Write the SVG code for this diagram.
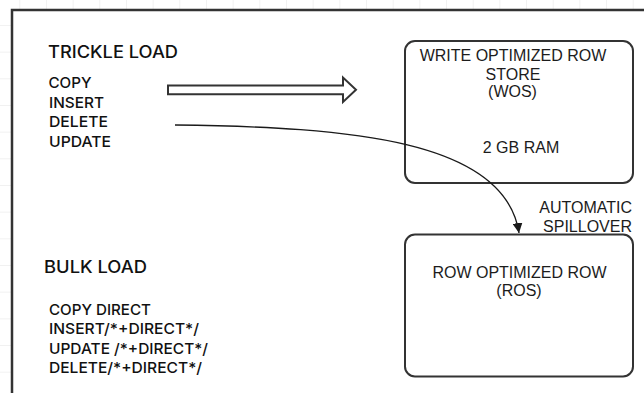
<svg xmlns="http://www.w3.org/2000/svg" width="644" height="393" viewBox="0 0 644 393">
  <defs>
    <pattern id="grid" x="19.3" y="-1.7" width="26.67" height="26.67" patternUnits="userSpaceOnUse">
      <path d="M0,0 H26.67 M0,0 V26.67" fill="none" stroke="#e4e4e4" stroke-width="1"/>
    </pattern>
    <marker id="arrowhead" viewBox="0 0 10 10" refX="10" refY="5" markerWidth="10" markerHeight="10" markerUnits="userSpaceOnUse" orient="auto">
      <path d="M0,0 L10,5 L0,10 z" fill="#1a1a1a"/>
    </marker>
    <style>
      .label { font-family: Inter, "Liberation Sans", sans-serif; font-weight: 500; fill: #111111; }
      .title { font-size: 17px; }
      .item { font-size: 15px; }
      .store { fill: #ffffff; stroke: #333333; stroke-width: 2; }
      .store-text { font-family: "Liberation Sans", Arial, sans-serif; font-size: 16px; fill: #1c1c1c; text-anchor: middle; }
      .frame { fill: none; stroke: #333333; stroke-width: 2.5; }
      .connector { fill: none; stroke: #1a1a1a; stroke-width: 1.3; }
    </style>
  </defs>

  <!-- canvas grid and page -->
  <rect x="0" y="0" width="644" height="393" fill="#ffffff"/>
  <rect x="0" y="0" width="644" height="393" fill="url(#grid)"/>
  <rect x="12" y="10" width="632" height="383" fill="#ffffff"/>
  <path class="frame" d="M12,393 V10 H644"/>

  <!-- trickle load statements -->
  <g id="trickle-load">
    <text class="label title" x="48" y="58" textLength="130" lengthAdjust="spacingAndGlyphs">TRICKLE LOAD</text>
    <text class="label item" x="48.5" y="88" textLength="43" lengthAdjust="spacingAndGlyphs">COPY</text>
    <text class="label item" x="49" y="107.5" textLength="55" lengthAdjust="spacingAndGlyphs">INSERT</text>
    <text class="label item" x="49" y="127" textLength="59" lengthAdjust="spacingAndGlyphs">DELETE</text>
    <text class="label item" x="49" y="146.5" textLength="62" lengthAdjust="spacingAndGlyphs">UPDATE</text>
  </g>

  <!-- bulk load statements -->
  <g id="bulk-load">
    <text class="label title" x="44" y="272.5" textLength="103" lengthAdjust="spacingAndGlyphs">BULK LOAD</text>
    <text class="label item" x="49" y="315" textLength="102" lengthAdjust="spacingAndGlyphs">COPY DIRECT</text>
    <text class="label item" x="49" y="334.3" textLength="150" lengthAdjust="spacingAndGlyphs">INSERT/*+DIRECT*/</text>
    <text class="label item" x="49" y="353.5" textLength="159" lengthAdjust="spacingAndGlyphs">UPDATE /*+DIRECT*/</text>
    <text class="label item" x="49" y="372.7" textLength="153" lengthAdjust="spacingAndGlyphs">DELETE/*+DIRECT*/</text>
  </g>

  <!-- write optimized store -->
  <g id="wos">
    <rect class="store" x="405" y="41" width="228" height="142" rx="10" ry="10"/>
    <text class="store-text" x="513" y="61">WRITE OPTIMIZED ROW</text>
    <text class="store-text" x="513" y="80">STORE</text>
    <text class="store-text" x="512.5" y="97">(WOS)</text>
    <text class="store-text" x="521" y="153">2 GB RAM</text>
  </g>

  <!-- read optimized store -->
  <g id="ros">
    <rect class="store" x="405" y="234.5" width="228" height="142" rx="10" ry="10"/>
    <text class="store-text" x="519.5" y="278">ROW OPTIMIZED ROW</text>
    <text class="store-text" x="519" y="296">(ROS)</text>
  </g>

  <!-- connectors -->
  <g id="connectors">
    <path class="store" d="M168,85.5 H343 V77.5 L356,89.8 L343,102 V94.3 H168 z"/>
    <path class="connector" d="M175,125 C350,127 505,140 519,233" marker-end="url(#arrowhead)"/>
    <text class="store-text" x="632" y="213" style="text-anchor:end">AUTOMATIC</text>
    <text class="store-text" x="632" y="231.5" style="text-anchor:end">SPILLOVER</text>
  </g>
</svg>
